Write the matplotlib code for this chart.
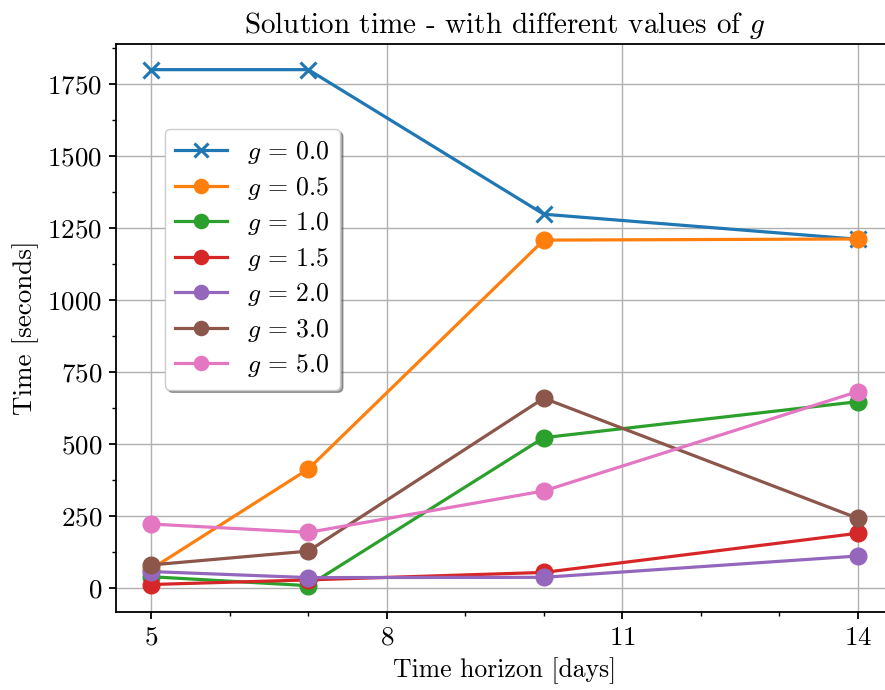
import numpy as np
import matplotlib
matplotlib.use('Agg')
import matplotlib.pyplot as plt

# Computer Modern look
plt.rcParams['font.family'] = 'serif'
plt.rcParams['font.serif'] = ['cmr10']
plt.rcParams['mathtext.fontset'] = 'cm'
plt.rcParams['axes.formatter.use_mathtext'] = True
plt.rcParams['axes.unicode_minus'] = False

# Data
horizon = [5, 7, 10, 14]
g_values = ['0.0', '0.5', '1.0', '1.5', '2.0', '3.0', '5.0']
t_g00 = [1800, 1800, 1298, 1211]
t_g05 = [66, 413, 1208, 1212]
t_g10 = [39, 8, 522, 647]
t_g15 = [12, 28, 54, 190]
t_g20 = [57, 36, 37, 111]
t_g30 = [80, 128, 659, 242]
t_g50 = [222, 193, 337, 682]
series = [t_g00, t_g05, t_g10, t_g15, t_g20, t_g30, t_g50]

fig = plt.figure(figsize=(8.85, 6.9), dpi=100)
ax = fig.add_axes([0.1311, 0.1125, 0.878, 0.824])

for i, (g, t) in enumerate(zip(g_values, series)):
    marker = 'x' if i == 0 else 'o'
    ax.plot(horizon, t, marker=marker, color=f'C{i}', lw=2.3, ms=12,
            mew=2.2 if i == 0 else 1.0, label=f'$g\\,=\\,{g}$')

ax.set_xticks([5, 8, 11, 14])
ax.set_xticks(range(5, 15), minor=True)
ax.set_yticks(np.arange(0, 1751, 250))
ax.set_yticks(np.arange(125, 1876, 250), minor=True)
ax.set_xlim(4.55, 14.45)
ax.set_ylim(-84.75, 1889.75)

ax.grid(True, which='major', color='#b0b0b0', lw=1.0)
ax.set_axisbelow(True)
for s in ax.spines.values():
    s.set_linewidth(1.3)
ax.tick_params(which='major', length=5, width=1.3, labelsize=19.5, pad=5)
ax.tick_params(which='minor', length=3, width=1.0)

ax.set_title('Solution time - with different values of $g$', fontsize=21, pad=8)
ax.set_xlabel('Time horizon [days]', fontsize=18.5, labelpad=5)
ax.set_ylabel('Time [seconds]', fontsize=19.5, labelpad=6)

leg = ax.legend(loc='upper left', bbox_to_anchor=(0.063, 0.85), borderaxespad=0,
                shadow=True, fancybox=True, fontsize=18.5, handlelength=2.0,
                labelspacing=0.33, markerscale=0.85, framealpha=1.0,
                edgecolor='#cccccc')

fig.savefig('out.png', dpi=100)
